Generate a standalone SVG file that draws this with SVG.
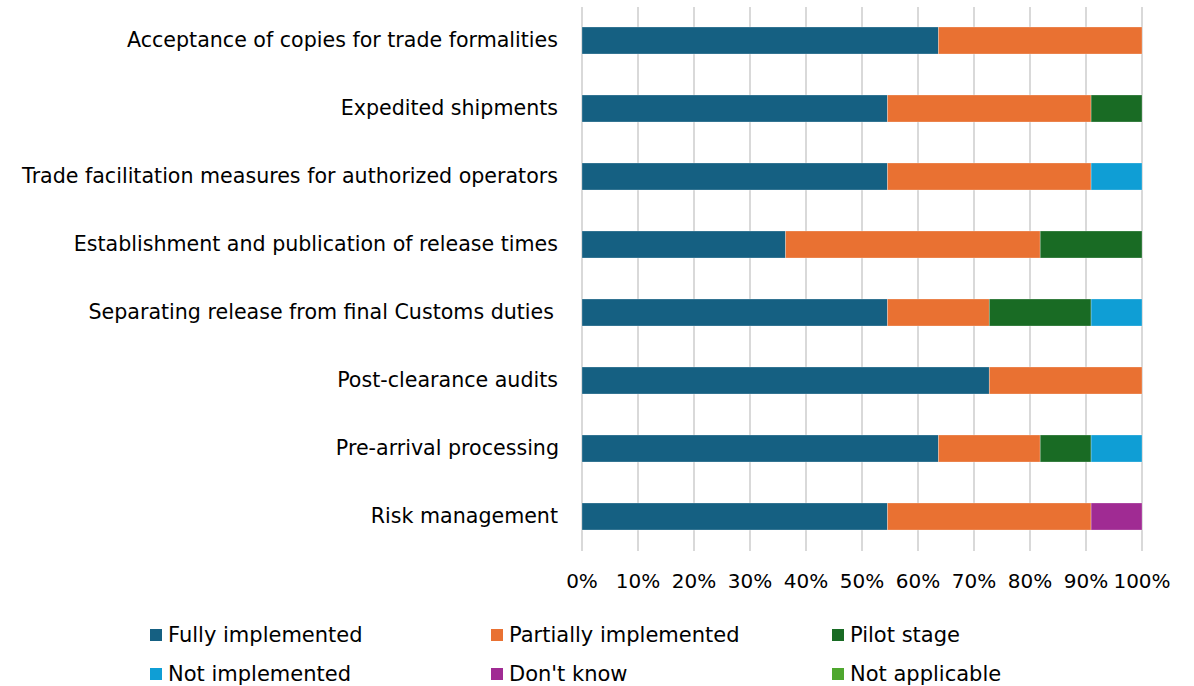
<svg xmlns="http://www.w3.org/2000/svg" width="1194" height="686" viewBox="0 0 1194 686">
<style>
text{font-family:"DejaVu Sans","Liberation Sans",Arial,sans-serif;font-size:21px;fill:#000}
.cat{text-anchor:end;font-size:20.6px}
.ax{text-anchor:middle;font-size:20px}
.grid line{stroke:#d9d9d9;stroke-width:2}
.seg rect{stroke:#ffffff;stroke-opacity:0.35;stroke-width:0.75}
.f{fill:#156082}.p{fill:#E97132}.pi{fill:#196B24}.n{fill:#0F9ED5}.d{fill:#A02B93}.na{fill:#4EA72E}
</style>
<rect width="1194" height="686" fill="#fff"/>
<g class="grid">
<line x1="582" y1="7" x2="582" y2="551"/><line x1="638" y1="7" x2="638" y2="551"/><line x1="694" y1="7" x2="694" y2="551"/><line x1="750" y1="7" x2="750" y2="551"/><line x1="806" y1="7" x2="806" y2="551"/><line x1="862" y1="7" x2="862" y2="551"/><line x1="918" y1="7" x2="918" y2="551"/><line x1="974" y1="7" x2="974" y2="551"/><line x1="1030" y1="7" x2="1030" y2="551"/><line x1="1086" y1="7" x2="1086" y2="551"/><line x1="1142" y1="7" x2="1142" y2="551"/>
</g>
<g id="bar1" class="seg"><rect class="f" x="582" y="27" width="356.4" height="27"/><rect class="p" x="938.4" y="27" width="203.6" height="27"/></g>
<g id="bar2" class="seg"><rect class="f" x="582" y="95" width="305.5" height="27"/><rect class="p" x="887.5" y="95" width="203.6" height="27"/><rect class="pi" x="1091.1" y="95" width="50.9" height="27"/></g>
<g id="bar3" class="seg"><rect class="f" x="582" y="163" width="305.5" height="27"/><rect class="p" x="887.5" y="163" width="203.6" height="27"/><rect class="n" x="1091.1" y="163" width="50.9" height="27"/></g>
<g id="bar4" class="seg"><rect class="f" x="582" y="231" width="203.6" height="27"/><rect class="p" x="785.6" y="231" width="254.6" height="27"/><rect class="pi" x="1040.2" y="231" width="101.8" height="27"/></g>
<g id="bar5" class="seg"><rect class="f" x="582" y="299" width="305.5" height="27"/><rect class="p" x="887.5" y="299" width="101.8" height="27"/><rect class="pi" x="989.3" y="299" width="101.8" height="27"/><rect class="n" x="1091.1" y="299" width="50.9" height="27"/></g>
<g id="bar6" class="seg"><rect class="f" x="582" y="367" width="407.3" height="27"/><rect class="p" x="989.3" y="367" width="152.7" height="27"/></g>
<g id="bar7" class="seg"><rect class="f" x="582" y="435" width="356.4" height="27"/><rect class="p" x="938.4" y="435" width="101.8" height="27"/><rect class="pi" x="1040.2" y="435" width="50.9" height="27"/><rect class="n" x="1091.1" y="435" width="50.9" height="27"/></g>
<g id="bar8" class="seg"><rect class="f" x="582" y="503" width="305.5" height="27"/><rect class="p" x="887.5" y="503" width="203.6" height="27"/><rect class="d" x="1091.1" y="503" width="50.9" height="27"/></g>
<g id="categories">
<text class="cat" x="558" y="47">Acceptance of copies for trade formalities</text>
<text class="cat" x="558" y="115">Expedited shipments</text>
<text class="cat" x="558" y="183">Trade facilitation measures for authorized operators</text>
<text class="cat" x="558" y="251">Establishment and publication of release times</text>
<text class="cat" x="554" y="319">Separating release from final Customs duties</text>
<text class="cat" x="558" y="387">Post-clearance audits</text>
<text class="cat" x="559" y="455">Pre-arrival processing</text>
<text class="cat" x="558" y="523">Risk management</text>
</g>
<g id="axis">
<text class="ax" x="582" y="588">0%</text><text class="ax" x="638" y="588">10%</text><text class="ax" x="694" y="588">20%</text><text class="ax" x="750" y="588">30%</text><text class="ax" x="806" y="588">40%</text><text class="ax" x="862" y="588">50%</text><text class="ax" x="918" y="588">60%</text><text class="ax" x="974" y="588">70%</text><text class="ax" x="1030" y="588">80%</text><text class="ax" x="1086" y="588">90%</text><text class="ax" x="1142" y="588">100%</text>
</g>
<g id="legend">
<rect class="f" x="150" y="629" width="12" height="12"/><text x="168" y="642">Fully implemented</text>
<rect class="p" x="491" y="629" width="12" height="12"/><text x="509" y="642">Partially implemented</text>
<rect class="pi" x="832" y="629" width="12" height="12"/><text x="850" y="642">Pilot stage</text>
<rect class="n" x="150" y="668" width="12" height="12"/><text x="168" y="681">Not implemented</text>
<rect class="d" x="491" y="668" width="12" height="12"/><text x="509" y="681">Don't know</text>
<rect class="na" x="832" y="668" width="12" height="12"/><text x="850" y="681">Not applicable</text>
</g>
</svg>
